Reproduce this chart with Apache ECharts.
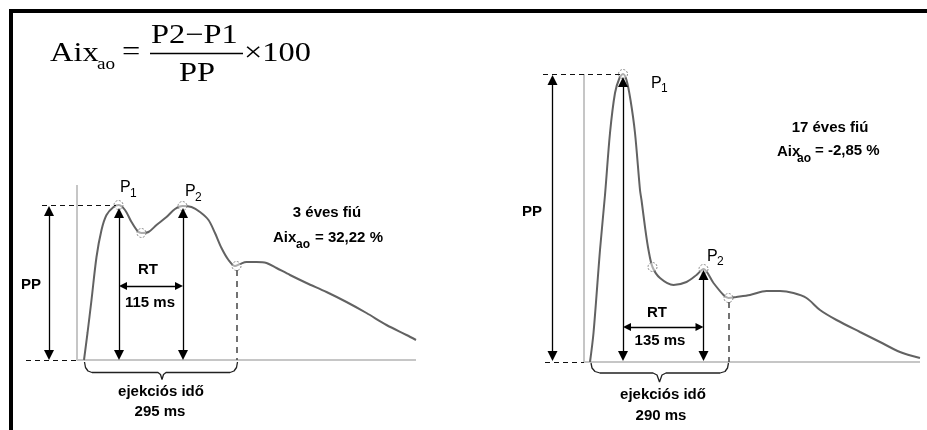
<!DOCTYPE html>
<html>
<head>
<meta charset="utf-8">
<script src="https://cdn.jsdelivr.net/npm/echarts@6/dist/echarts.min.js"></script>
<style>
html, body { margin: 0; padding: 0; background: #fff; }
#main { width: 927px; height: 430px; }
</style>
</head>
<body>
<div id="main"></div>
<script>
// x: time (ms-ish units), y: pressure above baseline (arbitrary units)
var waveLeft = [[14,0],[21,27],[29,60],[39,103],[49,130],[59,145],[73,153],[83,155],[96,150],[109,138],[121,129],[129,127],[143,128],[159,135],[179,143],[196,151],[211,154],[229,153],[246,148],[263,140],[276,127],[289,112],[303,100],[316,94],[326,96],[339,98],[359,98],[379,97],[399,92],[426,85],[459,77],[499,68],[539,58],[579,47],[619,35],[659,25],[678,20]];
var waveRight = [[12,0],[19,29],[32,112],[42,167],[52,229],[62,269],[71,284],[78,288],[85,282],[93,262],[102,229],[112,172],[115,162],[122,135],[129,112],[137,95],[152,84],[179,77],[205,80],[225,87],[239,93],[259,79],[279,67],[289,64],[305,65],[332,67],[365,71],[392,71],[419,69],[445,64],[472,52],[505,42],[552,30],[592,20],[632,10],[672,4]];

// P1, notch, P2, incisura
var pointsLeft = [[83,155],[129,127],[211,154],[319,94]];
var pointsRight = [[78,288],[137,95],[239,93],[289,64]];

var axisLeft = [[0,175],[0,0],[678,0]];
var axisRight = [[0,288],[0,0],[672,0]];

var braceLeft = [[15,-2],[17,-7.5],[22,-11],[30,-12.5],[162,-12.5],[167,-14.5],[170,-19.5],[173,-14.5],[178,-12.5],[306,-12.5],[314,-11],[319,-7.5],[321,-2]];
var braceRight = [[14,-1],[16,-6],[22,-9.5],[32,-11],[138,-11],[146,-13],[151,-20],[156,-13],[164,-11],[272,-11],[282,-9.5],[287,-6],[289,-1]];

// segments [x1, y1, x2, y2]
var arrowsLeft = [[-56,149,-56,5],[84,147,84,5],[212,147,212,5]];
var rtLeft = [92,74,204,74];
var dashLeft = [[-70,155,78,155],[-102,0,0,0]];
var ejectLeft = [319,90,319,0];

var arrowsRight = [[-63,282,-63,6],[78,280,78,6],[239,87,239,6]];
var rtRight = [86,35,231,35];
var dashRight = [[-82,288,72,288],[-78,0,0,0]];
var ejectRight = [289,60,289,0];

var labelsLeft = ['3 éves fiú', '= 32,22 %', '115 ms', '295 ms'];
var labelsRight = ['17 éves fiú', '= -2,85 %', '135 ms', '290 ms'];

var myChart = echarts.init(document.getElementById('main'));

var arrowStyle = {color: '#000', width: 1.3, type: 'solid'};
var dashStyle = {color: '#111', width: 1.2, type: [5, 4]};
var ejectStyle = {color: '#444', width: 1.5, type: [6, 5]};

function seg(s, style, sym, size) {
	return [
		{coord: [s[0], s[1]], symbol: sym, symbolSize: size, lineStyle: style},
		{coord: [s[2], s[3]], symbol: sym, symbolSize: size, lineStyle: style}
	];
}

function marks(arrows, rt, dashes, eject) {
	var d = [];
	arrows.forEach(function (a) { d.push(seg(a, arrowStyle, 'triangle', 10)); });
	d.push(seg(rt, arrowStyle, 'triangle', 8));
	dashes.forEach(function (a) { d.push(seg(a, dashStyle, 'none', 0)); });
	d.push(seg(eject, ejectStyle, 'none', 0));
	return d;
}

function panel(idx, axis, wave, points, brace, ml) {
	return [
		{
			type: 'line', xAxisIndex: idx, yAxisIndex: idx, data: axis,
			symbol: 'none', silent: true,
			lineStyle: {color: '#c6c6c6', width: 2},
			markLine: {
				silent: true, symbol: ['none', 'none'],
				label: {show: false}, emphasis: {disabled: true},
				data: ml
			}
		},
		{
			type: 'line', xAxisIndex: idx, yAxisIndex: idx, data: wave,
			symbol: 'none', smooth: 0.3, silent: true,
			lineStyle: {color: '#626262', width: 2}
		},
		{
			type: 'scatter', xAxisIndex: idx, yAxisIndex: idx, data: points,
			symbolSize: 9, silent: true, z: 4,
			itemStyle: {color: 'rgba(255,255,255,0.6)', borderColor: '#6e6e6e', borderWidth: 1, borderType: [2, 1.5]}
		},
		{
			type: 'line', xAxisIndex: idx, yAxisIndex: idx, data: brace,
			symbol: 'none', silent: true,
			lineStyle: {color: '#222', width: 1.3}
		}
	];
}

var sans = '"Liberation Sans", Arial, sans-serif';
var serif = '"Liberation Serif", "Times New Roman", serif';

function txt(s, x, y, size, bold, align) {
	return {
		type: 'text', x: x, y: y, silent: true,
		style: {text: s, fill: '#000', font: (bold ? 'bold ' : '') + size + 'px ' + sans, align: align || 'center', verticalAlign: 'middle'}
	};
}
function ser(s, x, y, size, align) {
	return {
		type: 'text', x: x, y: y, scaleX: 1.2, silent: true,
		style: {text: s, fill: '#000', font: size + 'px ' + serif, align: align || 'left', verticalAlign: 'middle'}
	};
}

option = {
	animation: false,
	backgroundColor: '#fff',
	grid: [
		{left: 17, top: 170, width: 420, height: 250},
		{left: 524, top: 62, width: 400, height: 360}
	],
	xAxis: [
		{type: 'value', gridIndex: 0, min: -120, max: 720, show: false},
		{type: 'value', gridIndex: 1, min: -120, max: 680, show: false}
	],
	yAxis: [
		{type: 'value', gridIndex: 0, min: -60, max: 190, show: false},
		{type: 'value', gridIndex: 1, min: -60, max: 300, show: false}
	],
	series: panel(0, axisLeft, waveLeft, pointsLeft, braceLeft, marks(arrowsLeft, rtLeft, dashLeft, ejectLeft))
		.concat(panel(1, axisRight, waveRight, pointsRight, braceRight, marks(arrowsRight, rtRight, dashRight, ejectRight))),
	graphic: [
		// frame
		{type: 'rect', shape: {x: 9, y: 9, width: 918, height: 4}, style: {fill: '#000'}, silent: true},
		{type: 'rect', shape: {x: 9, y: 9, width: 4, height: 421}, style: {fill: '#000'}, silent: true},
		// formula
		ser('Aix', 50, 54, 27),
		ser('ao', 97, 65, 16),
		ser('=', 122, 53, 27),
		ser('P2\u2212P1', 151, 36, 27),
		{type: 'line', shape: {x1: 150, y1: 53.5, x2: 243, y2: 53.5}, style: {stroke: '#000', lineWidth: 1.5}, silent: true},
		ser('PP', 197, 74, 27, 'center'),
		ser('\u00d7100', 244, 54, 27),
		// left panel texts
		txt('P', 120, 188, 16, false, 'left'),
		txt('1', 130, 194, 12, false, 'left'),
		txt('P', 185, 192, 16, false, 'left'),
		txt('2', 195, 198, 12, false, 'left'),
		txt('PP', 31, 285, 15, true),
		txt('RT', 148, 270, 15, true),
		txt(labelsLeft[2], 150, 303, 15, true),
		txt(labelsLeft[0], 327, 213, 15, true),
		txt('Aix', 273, 237.5, 15, true, 'left'),
		txt('ao', 296, 245, 12, true, 'left'),
		txt(labelsLeft[1], 315, 237.5, 15, true, 'left'),
		txt('ejekciós idő', 161, 392, 15, true),
		txt(labelsLeft[3], 160, 412, 15, true),
		// right panel texts
		txt('P', 651, 84, 16, false, 'left'),
		txt('1', 661, 89, 12, false, 'left'),
		txt('P', 707, 256.5, 16, false, 'left'),
		txt('2', 717, 262, 12, false, 'left'),
		txt('PP', 532, 212, 15, true),
		txt('RT', 657, 313, 15, true),
		txt(labelsRight[2], 660, 341, 15, true),
		txt(labelsRight[0], 830, 127.5, 15, true),
		txt('Aix', 777, 151.5, 15, true, 'left'),
		txt('ao', 797, 159, 12, true, 'left'),
		txt(labelsRight[1], 815, 151, 15, true, 'left'),
		txt('ejekciós idő', 663, 395, 15, true),
		txt(labelsRight[3], 661, 416, 15, true)
	]
};

myChart.setOption(option);
</script>
</body>
</html>
